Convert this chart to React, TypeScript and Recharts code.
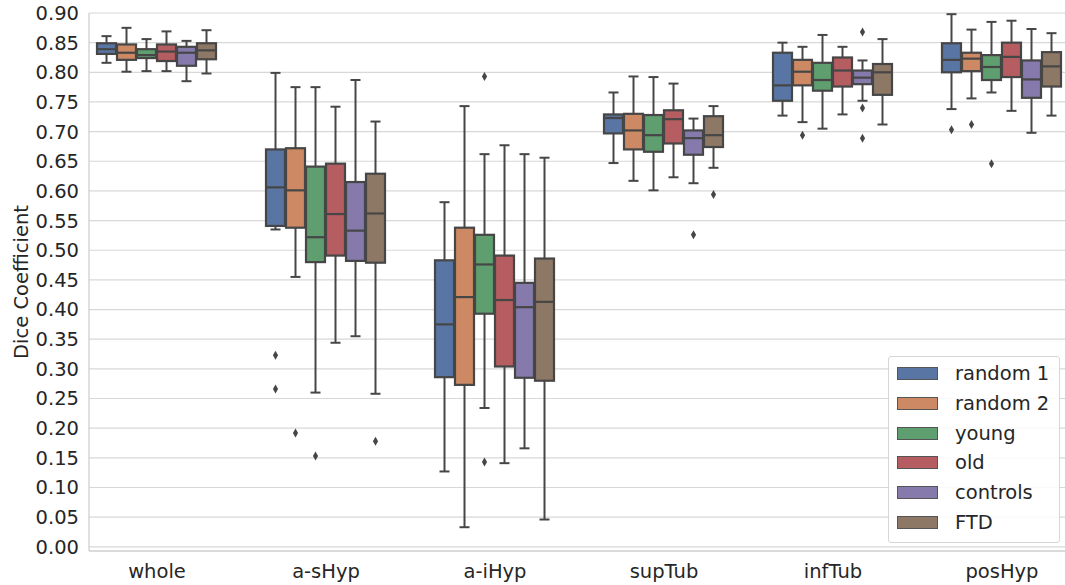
import { Bar, CartesianGrid, ComposedChart, XAxis, YAxis } from "recharts";

const categories = ["whole", "a-sHyp", "a-iHyp", "supTub", "infTub", "posHyp"];
const groups = ["random 1", "random 2", "young", "old", "controls", "FTD"];
const colors = ["#5875a4", "#cc8963", "#5f9e6e", "#b55d60", "#857aab", "#8d7866"];
const yTicks = [0, 0.05, 0.1, 0.15, 0.2, 0.25, 0.3, 0.35, 0.4, 0.45, 0.5, 0.55, 0.6, 0.65, 0.7, 0.75, 0.8, 0.85, 0.9];

// per category: [lower whisker, q1, median, q3, upper whisker]
const random1 = [
  [0.816, 0.831, 0.839, 0.849, 0.861],
  [0.535, 0.541, 0.606, 0.67, 0.799],
  [0.127, 0.286, 0.375, 0.483, 0.581],
  [0.647, 0.697, 0.723, 0.729, 0.766],
  [0.727, 0.752, 0.778, 0.833, 0.85],
  [0.738, 0.8, 0.821, 0.849, 0.898],
];
const random2 = [
  [0.801, 0.821, 0.833, 0.847, 0.875],
  [0.455, 0.538, 0.601, 0.672, 0.775],
  [0.033, 0.273, 0.421, 0.538, 0.743],
  [0.617, 0.67, 0.702, 0.73, 0.793],
  [0.716, 0.778, 0.801, 0.821, 0.843],
  [0.756, 0.802, 0.823, 0.833, 0.872],
];
const young = [
  [0.802, 0.824, 0.829, 0.839, 0.856],
  [0.26, 0.48, 0.522, 0.641, 0.775],
  [0.234, 0.393, 0.476, 0.526, 0.662],
  [0.601, 0.666, 0.694, 0.728, 0.792],
  [0.705, 0.769, 0.787, 0.816, 0.863],
  [0.766, 0.787, 0.809, 0.829, 0.885],
];
const old = [
  [0.802, 0.819, 0.835, 0.847, 0.869],
  [0.344, 0.491, 0.561, 0.646, 0.742],
  [0.141, 0.304, 0.416, 0.491, 0.677],
  [0.623, 0.68, 0.721, 0.736, 0.781],
  [0.729, 0.776, 0.803, 0.825, 0.843],
  [0.735, 0.792, 0.826, 0.85, 0.887],
];
const controls = [
  [0.785, 0.811, 0.833, 0.843, 0.853],
  [0.355, 0.482, 0.533, 0.615, 0.787],
  [0.166, 0.285, 0.404, 0.445, 0.662],
  [0.613, 0.661, 0.689, 0.702, 0.722],
  [0.752, 0.78, 0.791, 0.803, 0.82],
  [0.698, 0.757, 0.788, 0.82, 0.873],
];
const ftd = [
  [0.798, 0.822, 0.837, 0.849, 0.871],
  [0.258, 0.479, 0.562, 0.629, 0.717],
  [0.046, 0.28, 0.413, 0.486, 0.656],
  [0.639, 0.674, 0.694, 0.726, 0.743],
  [0.712, 0.762, 0.8, 0.814, 0.856],
  [0.727, 0.776, 0.81, 0.834, 0.866],
];

// outliers: [category index, value]
const random1Out = [[1, 0.323], [1, 0.266], [5, 0.703]];
const random2Out = [[1, 0.192], [4, 0.694], [5, 0.712]];
const youngOut = [[1, 0.153], [2, 0.793], [2, 0.143], [5, 0.646]];
const oldOut: number[][] = [];
const controlsOut = [[3, 0.526], [4, 0.868], [4, 0.74], [4, 0.689]];
const ftdOut = [[1, 0.178], [3, 0.594]];

const boxes = [random1, random2, young, old, controls, ftd];
const outliers = [random1Out, random2Out, youngOut, oldOut, controlsOut, ftdOut];

const rows = categories.map((name, ci) => {
  const row: any = { pos: ci, name };
  boxes.forEach((b, gi) => {
    row["g" + gi] = b[ci];
    row["o" + gi] = outliers[gi].filter((o) => o[0] === ci).map((o) => o[1]);
  });
  return row;
});

const EDGE = "#464646";
const TEXT = "#262626";
const FONT = "DejaVu Sans";

function boxShape(gi: number) {
  return (props: any) => {
    const { x, y, width, height, payload } = props;
    const [lo, q1, med, q3, hi] = payload["g" + gi];
    const top = Math.min(y, y + height);
    const bottom = Math.max(y, y + height);
    const py = (v: number) => bottom - ((v - lo) / (hi - lo)) * (bottom - top);
    const cx = x + width / 2;
    const cap = width / 4;
    return (
      <g>
        <line x1={cx} x2={cx} y1={py(hi)} y2={py(q3)} stroke={EDGE} strokeWidth={2} />
        <line x1={cx} x2={cx} y1={py(q1)} y2={py(lo)} stroke={EDGE} strokeWidth={2} />
        <line x1={cx - cap} x2={cx + cap} y1={py(hi)} y2={py(hi)} stroke={EDGE} strokeWidth={2} />
        <line x1={cx - cap} x2={cx + cap} y1={py(lo)} y2={py(lo)} stroke={EDGE} strokeWidth={2} />
        <rect
          x={x + 0.5}
          y={py(q3)}
          width={width - 1}
          height={py(q1) - py(q3)}
          fill={colors[gi]}
          stroke={EDGE}
          strokeWidth={2.2}
        />
        <line x1={x + 0.5} x2={x + width - 0.5} y1={py(med)} y2={py(med)} stroke={EDGE} strokeWidth={2.2} />
        {payload["o" + gi].map((v: number, i: number) => {
          const oy = py(v);
          return (
            <polygon
              key={i}
              points={`${cx},${oy - 4.5} ${cx + 2.6},${oy} ${cx},${oy + 4.5} ${cx - 2.6},${oy}`}
              fill={EDGE}
            />
          );
        })}
      </g>
    );
  };
}

function YLabel({ viewBox }: any) {
  const cx = viewBox.x + 21;
  const cy = viewBox.y + viewBox.height / 2;
  return (
    <text
      x={cx}
      y={cy}
      transform={`rotate(-90, ${cx}, ${cy})`}
      textAnchor="middle"
      dominantBaseline="central"
      fill={TEXT}
      fontSize={19.5}
      fontFamily={FONT}
    >
      Dice Coefficient
    </text>
  );
}

export default function App() {
  return (
    <div style={{ position: "absolute", left: 0, top: 0, width: 1065, height: 585, background: "#fff", fontFamily: FONT }}>
      <ComposedChart
        width={1065}
        height={585}
        data={rows}
        margin={{ top: 13, right: 0, bottom: 0, left: 0 }}
        barGap={0}
        barSize={20}
      >
        <CartesianGrid vertical={false} stroke="#d8d8d8" strokeWidth={1.2} />
        <XAxis
          type="number"
          dataKey="pos"
          domain={[-0.4024, 5.3728]}
          allowDataOverflow
          ticks={[0, 1, 2, 3, 4, 5]}
          interval={0}
          tickFormatter={(i: number) => categories[i]}
          height={34}
          tickLine={false}
          tickSize={0}
          tickMargin={13}
          axisLine={{ stroke: "#cccccc", strokeWidth: 1.2 }}
          tick={{ fill: TEXT, fontSize: 19.5, fontFamily: FONT }}
        />
        <YAxis
          type="number"
          domain={[-0.0071, 0.9]}
          allowDataOverflow
          ticks={yTicks}
          interval={0}
          tickFormatter={(v: number) => v.toFixed(2)}
          width={89}
          tickLine={false}
          tickSize={0}
          tickMargin={10}
          axisLine={{ stroke: "#cccccc", strokeWidth: 1.2 }}
          tick={{ fill: TEXT, fontSize: 19.5, fontFamily: FONT }}
          label={<YLabel />}
        />
        {groups.map((g, gi) => (
          <Bar
            key={g}
            name={g}
            dataKey={(d: any) => [d["g" + gi][0], d["g" + gi][4]]}
            fill={colors[gi]}
            shape={boxShape(gi)}
            isAnimationActive={false}
          />
        ))}
      </ComposedChart>
      <div
        style={{
          position: "absolute",
          left: 888,
          top: 356,
          width: 172,
          height: 187,
          boxSizing: "border-box",
          border: "1px solid #d6d6d6",
          borderRadius: 3,
          background: "rgba(255,255,255,0.85)",
        }}
      >
        {groups.map((g, gi) => (
          <div key={g} style={{ position: "absolute", left: 0, top: 17 + gi * 29.8 - 12, height: 24, width: 170 }}>
            <div
              style={{
                position: "absolute",
                left: 8,
                top: 5,
                width: 41,
                height: 13,
                boxSizing: "border-box",
                background: colors[gi],
                border: "1px solid #555",
              }}
            />
            <div
              style={{
                position: "absolute",
                left: 66,
                top: 0,
                lineHeight: "24px",
                fontSize: 19.5,
                color: TEXT,
                fontFamily: FONT,
                whiteSpace: "nowrap",
              }}
            >
              {g}
            </div>
          </div>
        ))}
      </div>
    </div>
  );
}
